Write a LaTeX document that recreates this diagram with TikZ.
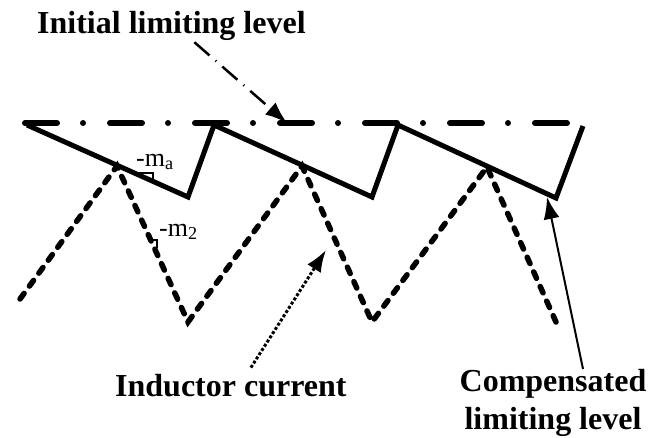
\documentclass[tikz,border=0pt]{standalone}
\usepackage{fontspec}
\setmainfont{Liberation Serif}
\usetikzlibrary{arrows.meta,calc,positioning}

\begin{document}
\begin{tikzpicture}[x=1pt,y=-1pt,
  lbl/.style={font=\fontsize{32}{38}\selectfont\bfseries, inner sep=0pt},
  slope/.style={font=\fontsize{26}{28}\selectfont, inner sep=0pt, anchor=base west},
  ramp/.style={line width=5pt, line join=miter},
  current/.style={line width=5.5pt, line cap=round, dash pattern=on 7pt off 9pt},
  level/.style={line width=6pt, line cap=round, dash pattern=on 32pt off 26pt on 0pt off 27pt},
  tip/.style={-{Latex[length=22pt,width=16pt]}}]
\useasboundingbox (0,0) rectangle (664,437);
% limiting levels and inductor current
\draw[level] (25,123) -- (593,123);
\draw[ramp] (27,125) -- (188,197) -- (214,125) -- (372,197) -- (398,125) -- (556,198) -- (583,126);
\draw[current] (20,299) -- (117,166) -- (188,322) -- (302,166) -- (372,322) -- (487,167) -- (556,322);
% slope marks
\draw[line width=1.5pt] (136,173) -- (153,173) -- (153,180);
\draw[line width=1.5pt] (148,240) -- (157,240) -- (157,248);
\node[slope] (ma) at (136,166) {-m\textsubscript{a}};
\node[slope] (mtwo) at (159,236) {-m\textsubscript{2}};
% labels
\node[lbl, anchor=base west] (ini) at (37,33) {Initial limiting level};
\node[lbl, anchor=base west] (ind) at (115,396) {Inductor current};
\node[lbl, align=center, anchor=north] (comp) at (553,369) {Compensated\\limiting level};
\coordinate (levtip) at (287,123);
\coordinate (curtip) at (326,250);
\coordinate (comptip) at (547,197);
\draw[tip, line width=2.5pt, dash pattern=on 20pt off 8pt on 1pt off 8pt] ([xshift=23pt,yshift=-2pt]ini.south) -- (levtip);
\draw[tip, line width=3pt, dash pattern=on 3pt off 2pt] ([xshift=20pt,yshift=6pt]ind.north) -- (curtip);
\draw[tip, line width=2pt] ([xshift=30pt]comp.north) -- (comptip);
\end{tikzpicture}
\end{document}
